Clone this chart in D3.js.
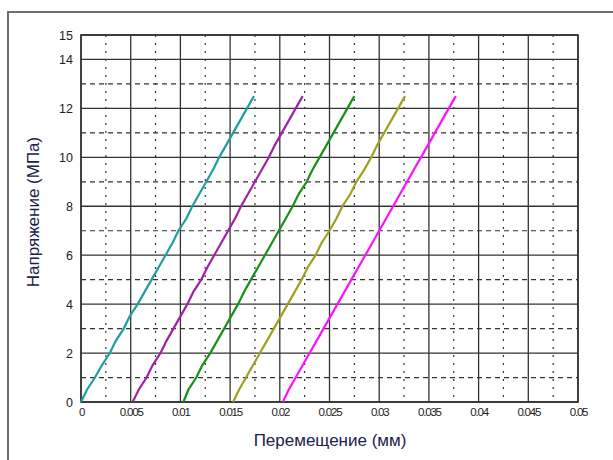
<!DOCTYPE html>
<html><head><meta charset="utf-8">
<script src="https://cdn.jsdelivr.net/npm/d3@7"></script>
<style>body{margin:0;background:#fff}svg{display:block}</style>
</head><body><svg id="c" width="613" height="460"></svg>
<script>
const stress = [0,0.5,1,1.5,2,2.5,3,3.5,4,4.5,5,5.5,6,6.5,7,7.5,8,8.5,9,9.5,10,10.5,11,11.5,12,12.5];
const seriesNames = ["s1","s2","s3","s4","s5"];
const seriesColors = ["#1e9e9e","#a020a8","#169016","#a0a020","#ff10ff"];
const disp1 = [0,0.0006,0.0014,0.0021,0.0029,0.0035,0.0043,0.0049,0.0057,0.0064,0.0071,0.0078,0.0085,0.0092,0.0098,0.0106,0.0112,0.0119,0.0126,0.0133,0.0139,0.0146,0.0153,0.0160,0.0167,0.0174];
const disp2 = [0.0052,0.0058,0.0066,0.0072,0.0080,0.0086,0.0093,0.0100,0.0107,0.0113,0.0121,0.0127,0.0134,0.0141,0.0148,0.0155,0.0161,0.0168,0.0175,0.0182,0.0189,0.0195,0.0202,0.0209,0.0216,0.0223];
const disp3 = [0.0103,0.0108,0.0116,0.0122,0.0130,0.0137,0.0144,0.0151,0.0158,0.0164,0.0171,0.0178,0.0185,0.0192,0.0199,0.0206,0.0213,0.0219,0.0227,0.0233,0.0240,0.0247,0.0254,0.0261,0.0268,0.0275];
const disp4 = [0.0153,0.0159,0.0166,0.0173,0.0180,0.0187,0.0194,0.0201,0.0208,0.0215,0.0222,0.0228,0.0236,0.0242,0.0250,0.0257,0.0263,0.0271,0.0277,0.0285,0.0292,0.0298,0.0305,0.0312,0.0319,0.0326];
const disp5 = [0.0203,0.0209,0.0216,0.0223,0.0230,0.0237,0.0244,0.0251,0.0258,0.0265,0.0272,0.0279,0.0286,0.0293,0.0300,0.0307,0.0314,0.0321,0.0328,0.0335,0.0342,0.0349,0.0356,0.0363,0.0370,0.0377];
const xTicks = [0,0.005,0.01,0.015,0.02,0.025,0.03,0.035,0.04,0.045,0.05];
const xMinor = [0.0025,0.0075,0.0125,0.0175,0.0225,0.0275,0.0325,0.0375,0.0425,0.0475];
const yTicks = [0,2,4,6,8,10,12,14,15];
const yMinor = [1,3,5,7,9,11,13];
const xTitle = "Перемещение (мм)";
const yTitle = "Напряжение (МПа)";

const svg = d3.select("#c");
const L=81, R=578, T=35, B=402;
const x = d3.scaleLinear().domain([0,0.05]).range([L,R]);
const y = d3.scaleLinear().domain([0,15]).range([B,T]);

// outer frame
svg.append("path").attr("d","M8,470 V12 H625").attr("fill","none").attr("stroke","#6e6e6e").attr("stroke-width",2);

const g = svg.append("g");
// minor grid
g.selectAll(".vm").data(xMinor).join("line")
 .attr("x1",d=>x(d)).attr("x2",d=>x(d)).attr("y1",T).attr("y2",B)
 .attr("stroke","#333").attr("stroke-width",1.2).attr("stroke-dasharray","2,6");
g.selectAll(".hm").data(yMinor).join("line")
 .attr("x1",L).attr("x2",R).attr("y1",d=>y(d)).attr("y2",d=>y(d))
 .attr("stroke","#333").attr("stroke-width",1.2).attr("stroke-dasharray","5,4");
// major grid
g.selectAll(".vM").data(xTicks).join("line")
 .attr("x1",d=>x(d)).attr("x2",d=>x(d)).attr("y1",T).attr("y2",B)
 .attr("stroke","#333").attr("stroke-width",1.3);
g.selectAll(".hM").data(yTicks).join("line")
 .attr("x1",L).attr("x2",R).attr("y1",d=>y(d)).attr("y2",d=>y(d))
 .attr("stroke","#333").attr("stroke-width",1.3);
g.append("rect").attr("x",L).attr("y",T).attr("width",R-L).attr("height",B-T)
 .attr("fill","none").attr("stroke","#333").attr("stroke-width",1.6);

// series
const all = [disp1,disp2,disp3,disp4,disp5];
const line = d3.line().x(d=>x(d[0])).y(d=>y(d[1]));
all.forEach((arr,i)=>{
  svg.append("path").datum(arr.map((v,j)=>[v,stress[j]]))
   .attr("d",line).attr("fill","none").attr("stroke",seriesColors[i]).attr("stroke-width",2.2);
});

// axes (labels only)
const xAxis = d3.axisBottom(x).tickValues(xTicks).tickSize(0).tickPadding(6)
  .tickFormat(d=>d===0?"0":String(+d.toFixed(3)));
const xa = svg.append("g").attr("transform",`translate(0,${B})`).call(xAxis);
xa.select(".domain").remove();
xa.selectAll("text").attr("font-family","Arial, 'Liberation Sans', sans-serif").attr("font-size",11.5)
  .attr("letter-spacing","-1.2px").attr("fill","#222");
const yAxis = d3.axisLeft(y).tickValues(yTicks).tickSize(0).tickPadding(8);
const ya = svg.append("g").attr("transform",`translate(${L},0)`).call(yAxis);
ya.select(".domain").remove();
ya.selectAll("text").attr("font-family","Arial, 'Liberation Sans', sans-serif").attr("font-size",12.5).attr("fill","#222");

// titles
svg.append("text").attr("x",330).attr("y",446).attr("text-anchor","middle")
 .attr("font-family","Arial, 'Liberation Sans', sans-serif").attr("font-size",17).attr("fill","#202050").text(xTitle);
svg.append("text").attr("transform","translate(39,212) rotate(-90)").attr("text-anchor","middle")
 .attr("font-family","Arial, 'Liberation Sans', sans-serif").attr("font-size",17).attr("fill","#202050").text(yTitle);
</script></body></html>
